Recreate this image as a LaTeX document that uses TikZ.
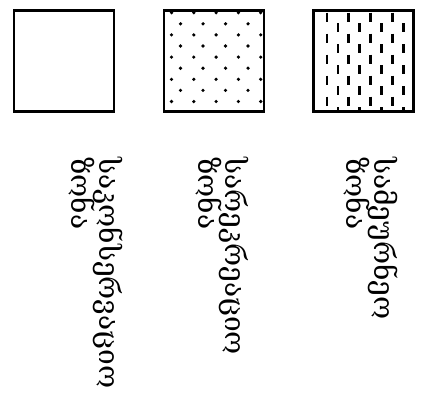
\documentclass[tikz,border=0pt]{standalone}
\usepackage{fontspec}
\newfontfamily\geofont{DejaVu Serif}
\newcommand\zonefont{\geofont\fontsize{28}{27.5}\selectfont\setlength{\lineskiplimit}{-100pt}}
\tikzset{
  zone box/.style={
    draw=black,
    line width=2.4pt,
    minimum width=100pt,
    minimum height=101pt,
    inner sep=0pt,
  },
  zone label/.style={
    rotate=-90,
    anchor=north west,
    align=left,
    inner sep=0pt,
    font=\zonefont,
  },
  zone dot/.style={fill=black},
  zone dash/.style={line width=2.8pt},
}
\begin{document}
\begin{tikzpicture}[x=1pt,y=-1pt]
  \useasboundingbox (0,0) rectangle (422,405);
  \node[zone box] (conservation) at (64,61) {};
  \node[zone box] (recreation) at (214,61) {};
  \node[zone box] (economic) at (363.5,61) {};
  % dotted fill
  \begin{scope}
    \clip (recreation.north west) rectangle (recreation.south east);
    \foreach \r in {0,...,8}
      \foreach \c in {0,...,4} {
        \pgfmathsetmacro\px{mod(\r,2)==0 ? 171.5+22.3*\c : 180.5+22.5*\c}
        \pgfmathsetmacro\py{12.7+11.1*\r}
        \fill[zone dot] (\px,\py) circle[radius=1.8pt];
      }
  \end{scope}
  % dashed fill
  \begin{scope}
    \clip (economic.north west) rectangle (economic.south east);
    \foreach \c in {0,...,7}
      \foreach \k in {0,...,5} {
        \pgfmathsetmacro\dx{327+10.9*\c}
        \pgfmathsetmacro\dy{mod(\c,2)==0 ? 17+21*\k : 27.5+21*\k}
        \draw[zone dash] (\dx,\dy-4.5) -- (\dx,\dy+4.5);
      }
  \end{scope}
  \node[zone label] (conservation label) at (123,157) {საკონსერვაციო\\ზონა};
  \node[zone label] (recreation label) at (249,157) {სარეკრეაციო\\ზონა};
  \node[zone label] (economic label) at (398,157) {სამეურნეო\\ზონა};
\end{tikzpicture}
\end{document}
